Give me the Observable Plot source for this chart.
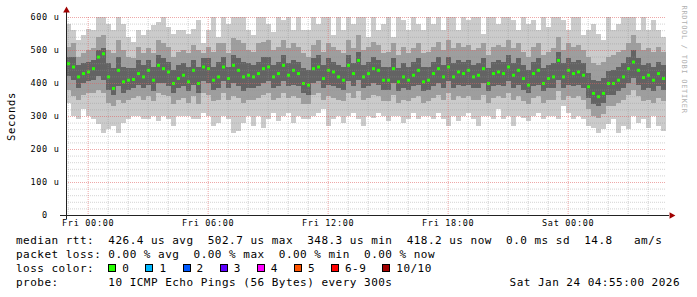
<!DOCTYPE html>
<html><head><meta charset="utf-8">
<script src="https://cdn.jsdelivr.net/npm/d3@7"></script>
<script src="https://cdn.jsdelivr.net/npm/@observablehq/plot@0.6"></script>
<style>
html,body{margin:0;padding:0;background:#fff;}
#wrap{position:relative;width:697px;height:297px;overflow:hidden;font-family:"DejaVu Sans Mono",monospace;background:#fff;}
#wrap svg text{white-space:pre;}
.leg{position:absolute;left:16px;font-size:11px;letter-spacing:0.48px;line-height:14px;white-space:pre;color:#000;}
.sq{display:inline-block;width:6px;height:6px;border:1px solid #000;margin-right:6px;vertical-align:0px;}
.it{display:inline-block;margin-right:16px;}
</style></head><body><div id="wrap"></div>
<script>
// ---- data (values in microseconds), 15-minute steps from Thu 22:55 to Sat 04:55 ----
const startTime = "2026-01-22T22:55:00Z";
const endTime = "2026-01-24T04:55:00Z";
const stepMinutes = 15;

const median = [
  460,450,420,430,435,445,480,490,420,385,440,405,410,412,430,420,440,410,455,445,435,400,415,425,
  405,440,400,450,445,410,420,450,415,455,440,420,425,420,430,445,450,420,430,455,425,440,430,400,
  395,445,450,415,440,435,420,410,455,430,470,420,430,445,440,410,410,445,405,420,410,425,440,405,
  410,430,445,420,450,420,435,430,440,420,425,445,400,430,435,430,450,425,440,415,395,430,440,400,415,
  420,470,420,440,430,435,425,390,370,360,370,400,400,410,420,445,465,440,418,425,410,430,415
];
const outerHi = [
  580,560,530,545,565,560,600,600,580,560,600,580,540,525,560,545,560,575,585,600,570,550,560,560,
  550,565,590,520,560,600,540,600,580,600,600,600,560,545,600,600,580,555,600,590,600,560,600,560,
  560,600,580,600,600,545,600,560,600,580,600,600,540,600,560,580,600,540,600,590,560,600,580,560,
  600,580,600,560,600,600,560,600,590,600,600,550,600,600,580,600,600,590,560,600,580,590,560,600,570,
  600,600,590,560,600,600,545,560,580,550,530,600,560,580,600,600,600,560,600,560,590,560,540
];
const outerLo = [
  340,300,290,320,300,290,275,250,260,270,250,280,290,300,300,290,290,300,285,300,290,270,300,300,
  300,290,290,310,300,270,280,300,290,250,255,280,300,270,300,265,290,310,285,300,310,280,300,290,
  290,300,310,320,270,290,300,280,300,310,290,270,300,295,310,300,285,300,300,280,290,310,290,300,
  300,290,310,290,270,300,285,300,310,290,270,300,300,290,320,290,300,270,300,295,285,300,310,290,300,
  300,290,330,310,290,300,290,270,265,250,260,275,290,250,270,260,300,280,290,265,300,270,255
];
const midHi = [
  510,520,480,490,500,505,540,545,500,490,530,500,480,475,510,490,505,490,530,520,510,480,495,500,
  490,515,500,490,510,495,520,520,490,535,530,520,500,495,520,525,530,500,510,530,505,520,510,490,
  480,515,530,495,520,510,500,490,530,505,545,500,510,525,515,490,495,520,485,510,490,505,520,490,
  495,510,525,500,530,505,520,510,515,500,505,520,485,510,515,510,530,505,520,495,480,510,520,485,495,
  505,540,500,520,510,515,500,480,460,455,465,480,485,495,500,520,545,520,500,505,495,510,495
];
const midLo = [
  380,360,350,365,370,370,380,370,340,330,350,340,350,355,360,350,360,345,370,365,360,335,350,355,
  340,360,335,370,365,345,350,370,350,360,355,340,350,350,355,365,370,350,355,370,355,360,355,335,
  335,365,370,350,360,355,350,345,370,355,375,350,355,365,360,345,345,365,340,350,345,355,360,340,
  345,355,365,350,370,350,360,355,360,350,350,365,340,355,360,355,370,350,360,345,335,355,360,340,350,
  350,375,350,360,355,360,350,320,300,295,305,330,330,340,350,365,380,360,345,350,340,355,345
];
const darkHi = [
  480,480,455,460,465,470,500,505,460,445,480,450,445,445,470,455,470,450,485,475,465,440,455,460,
  450,470,450,475,475,450,465,480,450,485,475,465,460,455,465,480,480,455,465,485,460,470,465,445,
  440,475,485,455,475,465,455,450,485,460,495,455,465,480,470,450,450,475,445,460,450,465,475,450,
  450,465,480,455,480,460,470,465,470,455,460,475,445,465,470,465,485,460,475,455,440,465,475,445,455,
  460,495,460,475,465,470,460,430,410,405,415,435,440,450,460,480,500,475,455,460,450,465,455
];
const darkLo = [
  420,410,385,400,405,410,420,410,380,365,390,370,380,385,395,385,395,375,400,400,390,370,385,390,
  375,395,370,405,400,380,385,405,385,400,390,375,385,385,390,400,405,385,390,405,390,395,390,370,
  365,400,405,385,395,390,385,380,405,390,410,385,390,400,395,380,380,400,375,385,380,390,395,375,
  380,390,400,385,405,385,395,390,395,385,385,400,375,390,395,390,405,385,395,380,370,390,395,375,385,
  385,410,385,395,390,395,385,355,335,330,340,365,365,375,385,400,415,395,380,385,375,390,380
];
const yTicks = [0, 100, 200, 300, 400, 500, 600];
const lossLabels = ["0", "1", "2", "3", "4", "5", "6-9", "10/10"];
const lossColors = ["#26ff00", "#00b8ff", "#0059ff", "#5e00ff", "#ff00ff", "#ff5500", "#ff0000", "#a10000"];
const statsLine = "median rtt:  426.4 us avg  502.7 us max  348.3 us min  418.2 us now  0.0 ms sd  14.8   am/s";
const lossLine = "packet loss: 0.00 % avg  0.00 % max  0.00 % min  0.00 % now";
const probeLine = "probe:       10 ICMP Echo Pings (56 Bytes) every 300s";
const stampLine = "Sat Jan 24 04:55:00 2026";

// ---- build ----
const t0 = new Date(startTime), t1 = new Date(endTime);
const step = stepMinutes * 60000;
const rows = median.map((m, i) => ({
  t: new Date(+t0 + i * step), t2: new Date(+t0 + (i + 1) * step), m,
  oh: outerHi[i], ol: outerLo[i], mh: midHi[i], ml: midLo[i], dh: darkHi[i], dl: darkLo[i]
}));
const hours = d3.utcHour.every(1).range(t0, new Date(+t1 + 1));
const majorHours = d3.utcHour.every(6).range(t0, new Date(+t1 + 1));
const minorHours = hours.filter(h => h.getUTCHours() % 6 !== 0);
const yMinor = d3.range(20, 601, 20).filter(v => v % 100 !== 0);
const yMajor = yTicks.filter(v => v > 0);

const chart = Plot.plot({
  width: 697, height: 297,
  marginTop: 17, marginBottom: 82, marginLeft: 66, marginRight: 31,
  x: {type: "utc", domain: [t0, t1], label: null},
  y: {domain: [0, 600], label: null},
  style: {fontFamily: "DejaVu Sans Mono, monospace", fontSize: "8.5px", letterSpacing: "0.7px", background: "#fff", overflow: "visible", color: "#000"},
  marks: [
    Plot.rect(rows, {x1: "t", x2: "t2", y1: "ol", y2: "oh", fill: "#cbcbcb", shapeRendering: "crispEdges"}),
    Plot.rect(rows, {x1: "t", x2: "t2", y1: "ml", y2: "mh", fill: "#9e9e9e", shapeRendering: "crispEdges"}),
    Plot.rect(rows, {x1: "t", x2: "t2", y1: "dl", y2: "dh", fill: "#636363", shapeRendering: "crispEdges"}),
    Plot.ruleY(rows, {x1: "t", x2: "t2", y: "m", stroke: lossColors[0], strokeWidth: 3, insetLeft: 1, insetRight: 1}),
    Plot.gridY(yMinor, {stroke: "#909090", strokeOpacity: 0.4, strokeDasharray: "1,1"}),
    Plot.gridX(minorHours, {stroke: "#909090", strokeOpacity: 0.4, strokeDasharray: "1,1"}),
    Plot.gridY(yMajor, {stroke: "#e06060", strokeOpacity: 0.55, strokeDasharray: "1,1"}),
    Plot.gridX(majorHours, {stroke: "#e06060", strokeOpacity: 0.55, strokeDasharray: "1,1"}),
    Plot.ruleY([0], {stroke: "#222", insetLeft: -6, insetRight: -3}),
    Plot.ruleX([t0], {stroke: "#222", insetTop: -6, insetBottom: -4}),
    Plot.dot([0], {frameAnchor: "top-left", dy: -7, symbol: "triangle", r: 2.5, fill: "#a00000", stroke: "none"}),
    Plot.dot([0], {frameAnchor: "bottom-right", dx: 5, symbol: "triangle", r: 2.5, rotate: 90, fill: "#a00000", stroke: "none"}),
    Plot.axisY(yTicks, {tickSize: 0, tickPadding: 7, tickFormat: d => d === 0 ? "0  " : `${d} u`}),
    Plot.axisX(majorHours, {tickSize: 0, tickPadding: 4, tickFormat: d3.utcFormat("%a %H:%M")}),
    Plot.text(["Seconds"], {frameAnchor: "left", dx: -55, rotate: -90, fontSize: 10.5, textAnchor: "middle"}),
    Plot.text(["RRDTOOL / TOBI OETIKER"], {frameAnchor: "top-right", dx: 20, dy: -12, rotate: 90, fontSize: 7, textAnchor: "start", fill: "#b0b0b0"})
  ]
});
const wrap = document.getElementById("wrap");
wrap.appendChild(chart);

function line(top, html) {
  const d = document.createElement("div");
  d.className = "leg"; d.style.top = top + "px";
  d.innerHTML = html; wrap.appendChild(d); return d;
}
line(234, statsLine);
line(248, lossLine);
line(262, "loss color:  " + lossLabels.map((l, i) =>
  `<span class="it"><span class="sq" style="background:${lossColors[i]}"></span>${l}</span>`).join(""));
line(276, probeLine);
const st = line(276, stampLine);
st.style.left = "auto"; st.style.right = "17px";
</script>
</body></html>
